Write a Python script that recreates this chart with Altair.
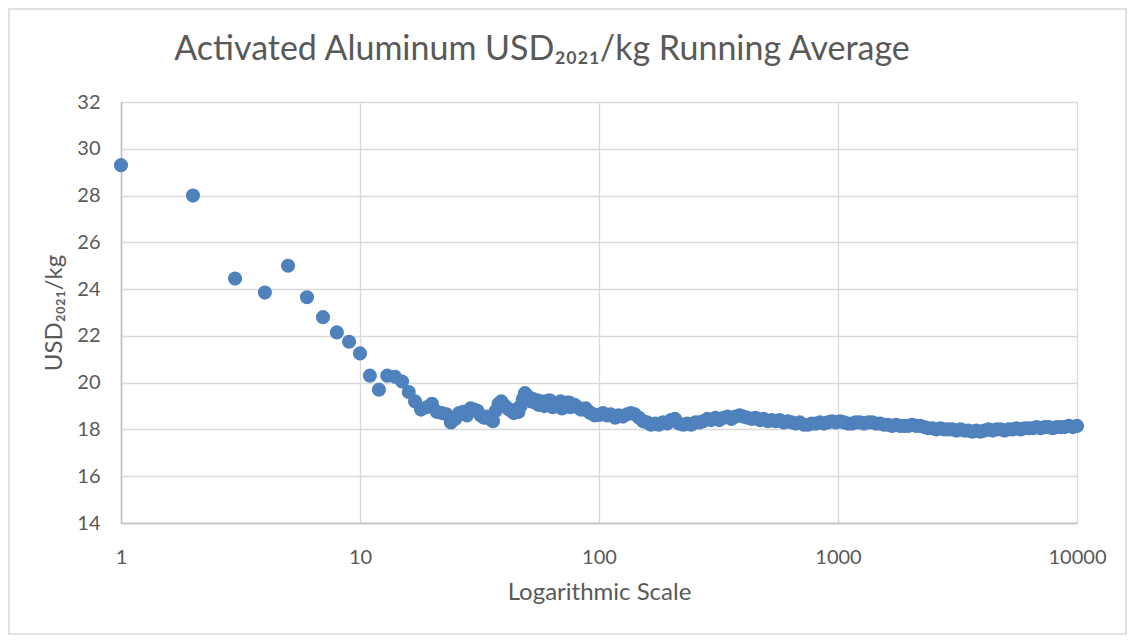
import altair as alt
import pandas as pd

# ---- data ----
n_early = list(range(1, 61))
v_early = [29.30, 28.00, 24.45, 23.85, 25.00, 23.65, 22.80, 22.15, 21.75, 21.25,
           20.30, 19.70, 20.30, 20.25, 20.05, 19.60, 19.20, 18.85, 18.95, 19.10,
           18.75, 18.70, 18.65, 18.30, 18.45, 18.70, 18.75, 18.60, 18.90, 18.85,
           18.80, 18.60, 18.50, 18.55, 18.45, 18.35, 18.80, 19.10, 19.20, 19.05,
           18.95, 18.85, 18.80, 18.70, 18.85, 18.75, 19.00, 19.30, 19.55, 19.45,
           19.35, 19.20, 19.30, 19.15, 19.25, 19.05, 19.20, 19.10, 19.00, 19.20]

n_mid = [62, 63, 64, 66, 67, 69, 70, 72, 73, 75,
         76, 79, 80, 83, 84, 87, 88, 91, 92, 95,
         96, 100, 104, 108, 112, 117, 121, 126, 131, 136,
         141, 147, 153, 159, 165, 172, 178, 185, 193, 200,
         208, 216, 225, 234, 243, 253, 263, 273, 284, 295,
         307, 319, 332, 345, 358, 372, 387, 402, 418, 435,
         452, 470, 488, 508, 528, 548, 570, 593, 616, 640,
         666, 692, 719, 748, 777, 808, 840, 873, 907, 943, 980]
v_mid = [19.25, 19.20, 18.95, 19.10, 19.10, 19.20, 18.90, 19.00, 19.15, 19.15,
         18.95, 19.05, 19.00, 18.90, 18.85, 18.85, 18.90, 18.75, 18.70, 18.65,
         18.60, 18.62, 18.70, 18.60, 18.65, 18.50, 18.60, 18.55, 18.65, 18.70,
         18.65, 18.50, 18.35, 18.30, 18.20, 18.25, 18.20, 18.30, 18.25, 18.40,
         18.45, 18.25, 18.20, 18.25, 18.20, 18.30, 18.30, 18.35, 18.45, 18.40,
         18.50, 18.40, 18.50, 18.55, 18.45, 18.55, 18.60, 18.55, 18.50, 18.45,
         18.50, 18.40, 18.45, 18.35, 18.40, 18.35, 18.40, 18.30, 18.35, 18.30,
         18.25, 18.30, 18.20, 18.20, 18.25, 18.25, 18.30, 18.25, 18.30, 18.35, 18.30]

n_late = [1019, 1059, 1101, 1144, 1189, 1236, 1285, 1336, 1388, 1443,
          1500, 1559, 1621, 1685, 1751, 1820, 1892, 1967, 2044, 2125,
          2209, 2296, 2386, 2480, 2578, 2680, 2786, 2895, 3010, 3128,
          3252, 3380, 3513, 3652, 3796, 3946, 4101, 4263, 4431, 4606,
          4788, 4977, 5173, 5377, 5589, 5810, 6039, 6277, 6525, 6782,
          7050, 7328, 7617, 7918, 8230, 8555, 8892, 9243, 9608, 10000]
v_late = [18.35, 18.30, 18.25, 18.25, 18.30, 18.30, 18.25, 18.30, 18.30, 18.25,
          18.25, 18.20, 18.20, 18.15, 18.20, 18.15, 18.15, 18.15, 18.20, 18.15,
          18.15, 18.10, 18.05, 18.05, 18.00, 18.05, 18.00, 18.00, 18.00, 17.95,
          18.00, 17.95, 17.95, 17.90, 17.95, 17.90, 17.95, 18.00, 17.95, 18.00,
          18.00, 17.95, 18.00, 18.00, 18.05, 18.00, 18.05, 18.05, 18.05, 18.10,
          18.05, 18.10, 18.10, 18.05, 18.10, 18.10, 18.10, 18.15, 18.10, 18.15]

x_ticks = [1, 10, 100, 1000, 10000]
y_ticks = [14, 16, 18, 20, 22, 24, 26, 28, 30, 32]
title_text = "Activated Aluminum USD₂₀₂₁/kg Running Average"

df = pd.DataFrame({
    "n": n_early + n_mid + n_late,
    "v": v_early + v_mid + v_late,
})

FONT = "Lato"
TXT = "#595959"
W, H = 956, 421
PAD = {"left": 113, "top": 94, "right": 50, "bottom": 112}

points = alt.Chart(df).mark_circle(size=200, color="#4f81bd", opacity=1).encode(
    x=alt.X("n:Q",
            scale=alt.Scale(type="log", domain=[1, 10000], nice=False),
            axis=alt.Axis(values=x_ticks, format="d", title="Logarithmic Scale",
                          labelFlush=False, labelOverlap=False, ticks=False,
                          labelPadding=24, titlePadding=13,
                          domainColor="#bfbfbf", domainWidth=1.5,
                          gridColor="#d9d9d9", gridWidth=1.3)),
    y=alt.Y("v:Q",
            scale=alt.Scale(domain=[14, 32], nice=False, zero=False),
            axis=alt.Axis(values=y_ticks, title="USD₂₀₂₁/kg",
                          labelFlush=False, ticks=False, labelPadding=21,
                          titlePadding=10,
                          domainColor="#bfbfbf", domainWidth=1.5,
                          gridColor="#d9d9d9", gridWidth=1.3)),
)

border = alt.Chart(alt.Data(values=[{}])).mark_rect(
    fill=None, stroke="#d9d9d9", strokeWidth=1.5
).encode(
    x=alt.value(-112), x2=alt.value(W + PAD["right"] - 1),
    y=alt.value(-93), y2=alt.value(H + PAD["bottom"] - 1),
)

title = alt.Chart(alt.Data(values=[{"t": title_text}])).mark_text(
    font=FONT, fontSize=34, color=TXT, align="center", baseline="alphabetic"
).encode(
    text="t:N", x=alt.value(421), y=alt.value(-42),
)

chart = alt.layer(border, points, title).properties(
    width=W, height=H,
    autosize=alt.AutoSizeParams(type="none"),
    padding=PAD,
).configure_axis(
    labelFont=FONT, labelFontSize=20, labelColor=TXT,
    titleFont=FONT, titleFontSize=24, titleColor=TXT, titleFontWeight="normal",
).configure_view(stroke=None)

chart.save("out.html", embed_options={"renderer": "svg", "actions": False})
